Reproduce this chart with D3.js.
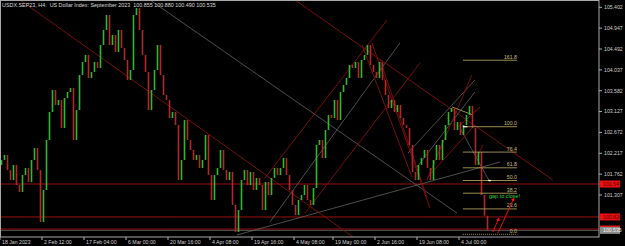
<!DOCTYPE html>
<html><head><meta charset="utf-8">
<script src="https://cdn.jsdelivr.net/npm/d3@7"></script>
<style>
body{margin:0;background:#000;}
svg{display:block;font-family:"Liberation Sans",Arial,sans-serif;}
</style></head><body>
<svg id="chart" width="625" height="246"></svg>
<script>
// H4 closes (open of each bar = previous close)
const closes = [
  102.071,102.180,101.852,101.634,101.962,101.525,101.373,101.743,101.896,101.591,
  102.071,102.332,101.852,100.718,101.416,102.507,103.118,103.598,103.270,103.380,
  102.769,103.423,103.554,103.641,102.507,103.161,103.925,104.208,104.361,103.859,
  103.990,104.208,104.078,104.579,104.907,105.234,104.579,104.797,104.427,104.907,
  104.514,104.252,103.816,104.034,105.234,105.386,104.907,104.361,103.990,103.161,
  103.598,104.034,104.579,103.925,103.489,103.380,102.987,103.118,102.834,101.634,
  102.071,102.943,102.507,102.289,102.071,102.180,101.896,102.071,102.616,101.743,
  101.198,101.743,101.896,102.289,101.852,101.634,101.809,101.089,100.500,100.980,
  101.634,101.852,101.525,101.809,101.416,101.678,101.525,100.980,101.591,101.307,
  101.678,101.896,101.743,101.896,102.114,101.743,101.416,101.089,100.871,101.198,
  101.307,101.525,101.198,101.089,101.460,102.398,102.507,102.114,102.725,103.052,
  102.987,103.380,102.943,103.554,103.707,103.859,104.143,104.078,104.208,103.859,
  104.252,104.361,104.579,104.143,103.990,103.859,104.208,103.816,103.489,103.205,
  103.380,103.118,103.270,102.987,102.834,102.769,102.398,101.809,101.634,101.962,
  102.114,102.289,101.896,101.634,102.071,102.398,102.071,102.507,102.834,103.118,
  103.205,102.725,102.900,102.616,102.834,103.052,103.249,102.769,101.962,102.245,
  101.307,100.855,100.535
];
const firstOpen = 101.962;

const timeLabels = ["18 Jan 2023", "2 Feb 12:00", "17 Feb 04:00", "6 Mar 00:00", "20 Mar 16:00",
  "4 Apr 08:00", "19 Apr 16:00", "4 May 08:00", "19 May 00:00", "2 Jun 16:00", "19 Jun 08:00", "4 Jul 00:00"];
const timeLabelBars = [0, 14, 28, 42, 56, 70, 84, 98, 111, 125, 139, 153];
const priceTicks = [105.402, 104.947, 104.492, 104.037, 103.582, 103.127, 102.672, 102.217, 101.762, 101.307];

const levelLines = [101.547, 100.828, 100.565];
const bidPrice = 100.535;

// trend lines: [bar1, price1, bar2, price2]
const redLines = [
  [6.7, 105.561, 117.7, 100.391],
  [98.3, 105.561, 184.3, 101.634],
  [88.3, 101.678, 129, 105.125],
  [101.7, 100.914, 140, 104.187],
  [120.7, 104.579, 137.3, 101.700],
  [124, 104.623, 143.3, 101.024],
  [126.7, 104.252, 142.3, 101.263],
  [142.3, 101.634, 157.3, 103.925],
  [142.3, 101.678, 158.3, 102.834],
  [152.3, 102.769, 160, 103.227],
  [159, 102.136, 161, 102.398]
];
const grayLines = [
  [50, 105.561, 152.3, 100.914],
  [90, 100.718, 133.3, 104.623],
  [79, 100.435, 166.7, 102.027],
  [136, 102.223, 158.3, 103.816],
  [139, 101.918, 158.3, 103.554],
  [153.3, 102.769, 163.3, 101.591]
];
const khakiLines = [[150.7, 103.227, 157.7, 103.052]];

const fibLevels = [0, 23.6, 38.2, 50, 61.8, 76.4, 100, 161.8];
const fibLow = 100.450, fibHigh = 102.797;
const fibBars = [154.3, 172.3];
const fibMarks = [[154.3, 155.8, 102.797], [162.7, 163.7, 101.624]];

const arrows = [[164.3, 100.500, 166.3, 100.805], [166, 100.478, 171.3, 101.242]];
const note = {bar: 163, price: 101.242, text: "gap to close!"};

const title = "USDX.SEP23, H4:  US Dollar Index: September 2023  100.855 100.880 100.490 100.535";

const W = 599, H = 237;
const svg = d3.select("#chart");

const x = d3.scaleLinear().domain([0, W / 3]).range([0, W]);
const y = d3.scaleLinear().domain([100.391, 105.561]).range([H, 0]);

const defs = svg.append("defs");
defs.append("clipPath").attr("id", "plot")
  .append("rect").attr("width", W).attr("height", H);
defs.append("marker").attr("id", "arr")
  .attr("viewBox", "0 0 6 6").attr("refX", 5).attr("refY", 3)
  .attr("markerWidth", 4).attr("markerHeight", 4).attr("orient", "auto")
  .append("path").attr("d", "M0,0L6,3L0,6Z").attr("fill", "#ff1010");

const plot = svg.append("g").attr("clip-path", "url(#plot)");

// horizontal levels
plot.selectAll("line.level").data(levelLines).join("line")
  .attr("class", "level")
  .attr("x1", 0).attr("x2", W)
  .attr("y1", d => y(d)).attr("y2", d => y(d))
  .attr("stroke", "#9a1010").attr("stroke-width", 1);
plot.append("line")
  .attr("x1", 0).attr("x2", W).attr("y1", y(bidPrice)).attr("y2", y(bidPrice))
  .attr("stroke", "#6a6a6a").attr("stroke-width", 0.8);

function drawLines(data, color, width) {
  plot.append("g").selectAll("line").data(data).join("line")
    .attr("x1", d => x(d[0])).attr("y1", d => y(d[1]))
    .attr("x2", d => x(d[2])).attr("y2", d => y(d[3]))
    .attr("stroke", color).attr("stroke-width", width);
}
drawLines(grayLines, "#6e6e6e", 0.7);
drawLines(redLines, "#861010", 0.9);
drawLines(khakiLines, "#a89a58", 0.9);

// candles
const candles = closes.map((c, i) => ({i: i, open: i ? closes[i - 1] : firstOpen, close: c}));
plot.append("g").selectAll("rect").data(candles).join("rect")
  .attr("x", d => x(d.i + 0.5) - 0.8)
  .attr("width", 1.6)
  .attr("y", d => y(Math.max(d.open, d.close)))
  .attr("height", d => Math.max(1, Math.abs(y(d.open) - y(d.close))))
  .attr("fill", d => d.close >= d.open ? "#2fb82f" : "#b02828");

// fibonacci
const fibG = plot.append("g");
const fibPrice = lv => fibLow + (fibHigh - fibLow) * lv / 100;
fibG.selectAll("line").data(fibLevels).join("line")
  .attr("x1", x(fibBars[0])).attr("x2", x(fibBars[1]))
  .attr("y1", d => y(fibPrice(d))).attr("y2", d => y(fibPrice(d)))
  .attr("stroke", "#a89a58").attr("stroke-width", 0.9)
  .attr("stroke-dasharray", d => d === 0 ? "1,1" : null);
fibG.selectAll("text").data(fibLevels).join("text")
  .attr("x", x(fibBars[1])).attr("y", d => y(fibPrice(d)) - 1.5)
  .attr("text-anchor", "end").attr("font-size", 5.2).attr("fill", "#c8bc80")
  .text(d => d.toFixed(1));
fibG.selectAll("line.mark").data(fibMarks).join("line")
  .attr("class", "mark")
  .attr("x1", d => x(d[0])).attr("x2", d => x(d[1]))
  .attr("y1", d => y(d[2])).attr("y2", d => y(d[2]))
  .attr("stroke", "#f0f0f0").attr("stroke-width", 1.2);

plot.append("text").attr("x", x(note.bar)).attr("y", y(note.price))
  .attr("font-size", 5.5).attr("fill", "#3ccc3c").text(note.text);

plot.append("g").selectAll("line").data(arrows).join("line")
  .attr("x1", d => x(d[0])).attr("y1", d => y(d[1]))
  .attr("x2", d => x(d[2])).attr("y2", d => y(d[3]))
  .attr("stroke", "#ff1010").attr("stroke-width", 0.9)
  .attr("marker-end", "url(#arr)");

// frame
svg.append("rect").attr("x", 0.5).attr("y", 0.5).attr("width", W - 0.5).attr("height", H - 0.5)
  .attr("fill", "none").attr("stroke", "#a8a8a8").attr("stroke-width", 1);

// price axis
const pa = svg.append("g").attr("transform", `translate(${W},0)`);
const pt = pa.selectAll("g").data(priceTicks).join("g")
  .attr("transform", d => `translate(0,${y(d)})`);
pt.append("line").attr("x2", 3).attr("stroke", "#b0b0b0");
pt.append("text").attr("x", 5).attr("dy", "0.35em").attr("font-size", 5.2)
  .attr("fill", "#d0d0d0").text(d => d.toFixed(3));

const boxes = levelLines.map(p => ({p: p, bg: "#e81010", fg: "#5a0000"}))
  .concat([{p: bidPrice, bg: "#8a8a8a", fg: "#f0f0f0"}]);
const bx = pa.selectAll("g.box").data(boxes).join("g").attr("class", "box")
  .attr("transform", d => `translate(1,${y(d.p)})`);
bx.append("rect").attr("y", -3.5).attr("width", 20).attr("height", 7).attr("fill", d => d.bg);
bx.append("text").attr("x", 3).attr("dy", "0.35em").attr("font-size", 5.2)
  .attr("fill", d => d.fg).text(d => d.p.toFixed(3));

// time axis
const ta = svg.append("g").attr("transform", `translate(0,${H})`);
const tt = ta.selectAll("g").data(timeLabelBars).join("g")
  .attr("transform", d => `translate(${x(d)},0)`);
tt.append("line").attr("y2", 3).attr("stroke", "#b0b0b0");
tt.append("text").attr("x", 2).attr("y", 7).attr("font-size", 5.2)
  .attr("fill", "#d0d0d0").text((d, i) => timeLabels[i]);

// title
svg.append("text").attr("x", 2).attr("y", 7).attr("font-size", 5.4)
  .attr("fill", "#d8d8d8").style("white-space", "pre").text(title);
</script>
</body></html>
